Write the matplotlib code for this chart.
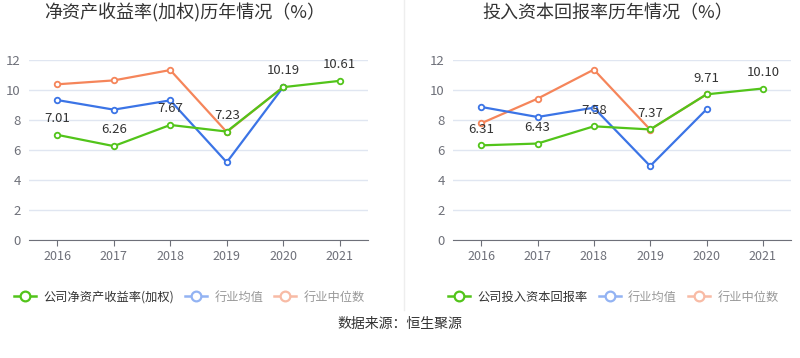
import matplotlib
matplotlib.use("Agg")
from matplotlib import pyplot as plt
from matplotlib.lines import Line2D

plt.rcParams['font.family'] = ['Noto Sans CJK SC', 'DejaVu Sans']

years = ['2016', '2017', '2018', '2019', '2020', '2021']

# 净资产收益率(加权)
roe_company = [7.01, 6.26, 7.67, 7.23, 10.19, 10.61]
roe_mean = [9.33, 8.69, 9.31, 5.18, 10.20]
roe_median = [10.38, 10.64, 11.33, 7.20, 10.20]

# 投入资本回报率
roic_company = [6.31, 6.43, 7.58, 7.37, 9.71, 10.10]
roic_mean = [8.87, 8.20, 8.82, 4.93, 8.71]
roic_median = [7.78, 9.42, 11.36, 7.36, 9.71]

green = '#52c41a'
blue = '#3b74e6'
orange = '#f5855a'
blue_l = '#93b3f3'
orange_l = '#f8bba5'

fig = plt.figure(figsize=(8, 3.58), dpi=100)

def draw(ax, company, mean, median, title, label, tx, lx):
    x = list(range(len(years)))
    mk = dict(marker='o', markersize=4, markerfacecolor='white', markeredgewidth=1.3)
    ax.plot(x[:len(median)], median, color=orange, lw=1.6, zorder=3, **mk)
    ax.plot(x[:len(mean)], mean, color=blue, lw=1.6, zorder=3, **mk)
    ax.plot(x, company, color=green, lw=1.6, zorder=4, **mk)
    for xi, v in zip(x, company):
        ax.annotate(f'{v:.2f}', (xi, v), xytext=(0, 7), textcoords='offset points',
                    ha='center', va='bottom', fontsize=9.5, color='#333333', zorder=5)
    ax.set_xlim(-0.5, 5.5)
    ax.set_ylim(0, 12)
    ax.set_yticks([0, 2, 4, 6, 8, 10, 12])
    ax.set_xticks(x)
    ax.set_xticklabels(years)
    ax.grid(axis='y', color='#e0e6f1', lw=1)
    ax.set_axisbelow(True)
    for s in ['top', 'right', 'left']:
        ax.spines[s].set_visible(False)
    ax.spines['bottom'].set_color('#6e7079')
    ax.tick_params(axis='y', length=0, labelsize=9.5, labelcolor='#6e7079', pad=6)
    ax.tick_params(axis='x', length=4, color='#6e7079', labelsize=9, labelcolor='#6e7079')
    fig.text(tx / 800, 1 - 13 / 358, title, ha='center', va='center', fontsize=13, color='#333333')
    handles = [
        Line2D([], [], color=green, lw=1.8, marker='o', markersize=7, markerfacecolor='white', markeredgewidth=1.6),
        Line2D([], [], color=blue_l, lw=1.8, marker='o', markersize=7, markerfacecolor='white', markeredgewidth=1.6),
        Line2D([], [], color=orange_l, lw=1.8, marker='o', markersize=7, markerfacecolor='white', markeredgewidth=1.6),
    ]
    leg = fig.legend(handles, [label, '行业均值', '行业中位数'], loc='center left',
                     bbox_to_anchor=(lx / 800, 1 - 297 / 358), ncol=3, frameon=False, fontsize=8.8,
                     handlelength=1.8, handletextpad=0.6, columnspacing=0.9, borderpad=0, borderaxespad=0)
    cols = ['#333333', '#999999', '#999999']
    for t, c in zip(leg.get_texts(), cols):
        t.set_color(c)

ax1 = fig.add_axes([29/800, 1-240/358, 339/800, 180/358])
draw(ax1, roe_company, roe_mean, roe_median, '净资产收益率(加权)历年情况（%）', '公司净资产收益率(加权)', 185, 14)
ax2 = fig.add_axes([453/800, 1-240/358, 338/800, 180/358])
draw(ax2, roic_company, roic_mean, roic_median, '投入资本回报率历年情况（%）', '公司投入资本回报率', 608, 448)

fig.add_artist(Line2D([404/800, 404/800], [1-310/358, 1], color='#eeeeee', lw=1))
fig.text(0.5, 1-324/358, '数据来源：恒生聚源', ha='center', va='center', fontsize=10, color='#333333')

fig.savefig('out.png', dpi=100)
